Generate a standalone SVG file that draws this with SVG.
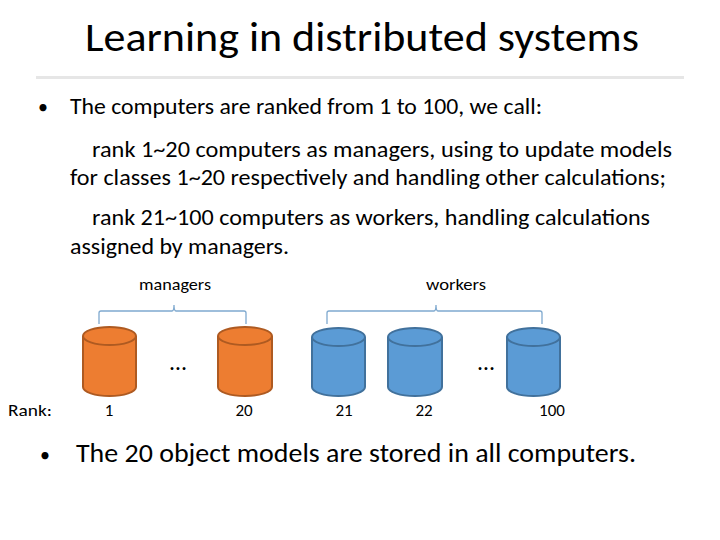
<svg xmlns="http://www.w3.org/2000/svg" width="720" height="540" viewBox="0 0 720 540">
<style>
text{font-family:Calibri,"Liberation Sans",Carlito,sans-serif;fill:#000}
.or{fill:#ed7d31;stroke:#ae5a21;stroke-width:2}
.bl{fill:#5b9bd5;stroke:#41719c;stroke-width:2}
.br{fill:none;stroke:#7fa9cf;stroke-width:1.3}
</style>
<rect width="720" height="540" fill="#fff"/>
<text x="362" y="51" font-size="40" text-anchor="middle" textLength="554" lengthAdjust="spacingAndGlyphs">Learning in distributed systems</text>
<rect x="36" y="76" width="648" height="3" fill="#e6e6e6"/>
<g font-size="22">
<text x="38" y="114" font-size="20">•</text>
<text x="70" y="114" textLength="472" lengthAdjust="spacingAndGlyphs">The computers are ranked from 1 to 100, we call:</text>
<text x="92" y="157" textLength="580" lengthAdjust="spacingAndGlyphs">rank 1~20 computers as managers, using to update  models</text>
<text x="70" y="185" textLength="596" lengthAdjust="spacingAndGlyphs">for classes 1~20 respectively and handling other calculations;</text>
<text x="92" y="225" textLength="558" lengthAdjust="spacingAndGlyphs">rank 21~100 computers as workers, handling calculations</text>
<text x="70" y="254" textLength="219" lengthAdjust="spacingAndGlyphs">assigned by managers.</text>
</g>
<g font-size="17">
<text x="175" y="290" text-anchor="middle" textLength="72" lengthAdjust="spacingAndGlyphs">managers</text>
<text x="456" y="290" text-anchor="middle" textLength="60" lengthAdjust="spacingAndGlyphs">workers</text>
<text x="8" y="416" textLength="44" lengthAdjust="spacingAndGlyphs">Rank:</text>
<text x="109" y="416" text-anchor="middle">1</text>
<text x="244" y="416" text-anchor="middle">20</text>
<text x="344" y="416" text-anchor="middle">21</text>
<text x="424" y="416" text-anchor="middle">22</text>
<text x="552" y="416" text-anchor="middle">100</text>
</g>
<g id="connectors">
<path class="br" d="M99 324 V313 Q99 311 101 311 H172 Q174 311 174 305 Q174 311 176 311 H244 Q246 311 246 313 V324"/>
<path class="br" d="M327 324 V313 Q327 311 329 311 H434 Q436 311 436 305 Q436 311 438 311 H540 Q542 311 542 313 V324"/>
</g>
<g id="n1"><path class="or" d="M83 336 V387 A26.5 9 0 0 0 136 387 V336 A26.5 9 0 0 0 83 336 Z"/><path class="or" d="M83 336 A26.5 9 0 0 0 136 336"/></g>
<g id="n20"><path class="or" d="M218 336 V387 A27 9 0 0 0 272 387 V336 A27 9 0 0 0 218 336 Z"/><path class="or" d="M218 336 A27 9 0 0 0 272 336"/></g>
<g id="n21"><path class="bl" d="M312 337 V387 A26.5 9 0 0 0 365 387 V337 A26.5 9 0 0 0 312 337 Z"/><path class="bl" d="M312 337 A26.5 9 0 0 0 365 337"/></g>
<g id="n22"><path class="bl" d="M388 337 V387 A27 9 0 0 0 442 387 V337 A27 9 0 0 0 388 337 Z"/><path class="bl" d="M388 337 A27 9 0 0 0 442 337"/></g>
<g id="n100"><path class="bl" d="M507 337 V387 A26.5 9 0 0 0 560 387 V337 A26.5 9 0 0 0 507 337 Z"/><path class="bl" d="M507 337 A26.5 9 0 0 0 560 337"/></g>
<text x="178" y="370" font-size="24" text-anchor="middle">…</text>
<text x="486" y="370" font-size="24" text-anchor="middle">…</text>
<text x="40" y="462" font-size="20">•</text>
<text x="76" y="462" font-size="27" textLength="560" lengthAdjust="spacingAndGlyphs">The 20 object models are stored in all computers.</text>
</svg>
